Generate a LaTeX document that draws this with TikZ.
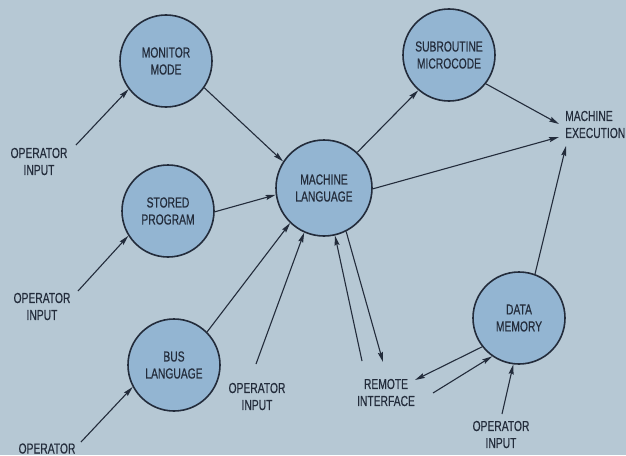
\documentclass[tikz,border=0pt]{standalone}
\usepackage{fontspec}
\setmainfont{Liberation Sans}[FakeStretch=0.71,FakeBold=0.4]
\usetikzlibrary{arrows.meta}
\definecolor{bg}{HTML}{B6C8D4}
\definecolor{cfill}{HTML}{93B5D2}
\definecolor{ink}{HTML}{232C3B}
\begin{document}
\begin{tikzpicture}[x=1pt,y=-1pt,
  txt/.style={align=center,text=ink,inner sep=0pt,font=\fontsize{14.5}{17}\selectfont},
  proc/.style={txt,circle,draw=ink,fill=cfill,line width=1.6pt,minimum size=92pt},
  arr/.style={-{Stealth[length=10pt,width=5pt,inset=1.5pt]},line width=1.1pt,draw=ink}]
\fill[bg] (0,0) rectangle (626,455);
\useasboundingbox (0,0) rectangle (626,455);
% process circles
\node[proc] (mon) at (166,61) {MONITOR\\MODE};
\node[proc] (sto) at (168,211) {STORED\\PROGRAM};
\node[proc,minimum size=96pt] (ml) at (324,188) {MACHINE\\LANGUAGE};
\node[proc] (sub) at (449,55) {SUBROUTINE\\MICROCODE};
\node[proc] (bus) at (174,365) {BUS\\LANGUAGE};
\node[proc] (dm) at (519,318) {DATA\\MEMORY};
% text labels
\node[txt] (op1) at (39,161.5) {OPERATOR\\INPUT};
\node[txt] (op2) at (42,306.5) {OPERATOR\\INPUT};
\node[txt,anchor=base] (op3) at (47,453.5) {OPERATOR};
\node[txt] (op4) at (257,396.5) {OPERATOR\\INPUT};
\node[txt] (rem) at (386,392.5) {REMOTE\\INTERFACE};
\node[txt] (op5) at (501,434.5) {OPERATOR\\INPUT};
\node[txt,align=left,anchor=west] (me) at (565,124.5) {MACHINE\\EXECUTION};
% connector end points at labels
\coordinate (op1e) at (76,145);
\coordinate (op2e) at (78,291);
\coordinate (op3e) at (81,442);
\coordinate (op4e) at (256,364);
\coordinate (remA) at (362,361);
\coordinate (remB) at (383,362);
\coordinate (remC) at (415,380);
\coordinate (remD) at (433,393);
\coordinate (op5e) at (502,414);
\coordinate (meA) at (559,124);
\coordinate (meB) at (559,137);
\coordinate (meC) at (566,146);
% connectors
\draw[arr] (op1e) -- (mon.217);
\draw[arr] (mon.325) -- (ml.147);
\draw[arr] (sto.359) -- (ml.188);
\draw[arr] (op2e) -- (sto.212);
\draw[arr] (bus.45) -- (ml.226);
\draw[arr] (op4e) -- (ml.246);
\draw[arr] (op3e) -- (bus.208);
\draw[arr] (remA) -- (ml.283);
\draw[arr] (ml.297) -- (remB);
\draw[arr] (dm.218) -- (remC);
\draw[arr] (remD) -- (dm.235);
\draw[arr] (op5e) -- (dm.263);
\draw[arr] (dm.70) -- (meC);
\draw[arr] (sub.322) -- (meA);
\draw[arr] (ml.359) -- (meB);
\draw[arr] (ml.47) -- (sub.229);
\end{tikzpicture}
\end{document}
